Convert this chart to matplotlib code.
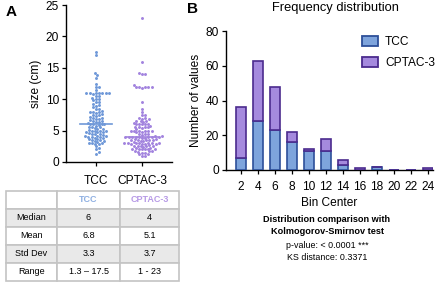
import numpy as np
import matplotlib
matplotlib.use("Agg")
import matplotlib.pyplot as plt
from matplotlib.patches import Patch

plt.rcParams['font.family'] = ['Liberation Sans', 'DejaVu Sans']

# ---- data ----
groups = ['TCC', 'CPTAC-3']
tcc_sizes = [1.3, 1.6, 2.0, 2.3, 2.5, 2.8, 2.9,
             3.0, 3.0, 3.1, 3.2, 3.3, 3.4, 3.5, 3.5, 3.6, 3.7, 3.8, 3.9, 4.0, 4.0,
             4.0, 4.1, 4.2, 4.2, 4.3, 4.4, 4.5, 4.5, 4.6, 4.7, 4.8, 4.8, 4.9, 4.9,
             5.0, 5.0, 5.1, 5.2, 5.3, 5.4, 5.5, 5.5, 5.6, 5.8, 5.9, 6.0, 6.0, 6.0,
             6.1, 6.2, 6.3, 6.4, 6.5, 6.5, 6.7, 6.8, 6.9,
             7.0, 7.0, 7.2, 7.3, 7.5, 7.5, 7.7, 7.8, 8.0, 8.0, 8.0, 8.2, 8.4, 8.5,
             8.7, 8.9,
             9.0, 9.2, 9.5, 9.5, 9.8, 10.0, 10.0, 10.2, 10.5, 10.5, 10.8,
             11.0, 11.0, 11.0, 11.0, 11.0, 11.0, 11.0, 11.5, 12.0, 12.0, 12.5,
             13.4, 13.8, 14.1, 17.0, 17.5]
cptac_sizes = [1.0, 1.0, 1.2, 1.3, 1.5, 1.5, 1.6, 1.7, 1.8, 1.8, 2.0, 2.0, 2.0,
               2.0, 2.0, 2.1, 2.2, 2.3, 2.4, 2.5, 2.5, 2.5, 2.5, 2.6, 2.7, 2.8,
               2.8, 2.9, 2.9,
               3.0, 3.0, 3.0, 3.0, 3.0, 3.0, 3.1, 3.2, 3.3, 3.4, 3.5, 3.5, 3.5,
               3.5, 3.5, 3.6, 3.7, 3.8, 3.9, 4.0, 4.0, 4.0, 4.0, 4.0, 4.0, 4.0,
               4.0, 4.1, 4.2, 4.3, 4.5, 4.5, 4.5, 4.7, 4.8,
               5.0, 5.0, 5.0, 5.0, 5.0, 5.0, 5.2, 5.4, 5.5, 5.5, 5.5, 5.6, 5.8,
               6.0, 6.0, 6.0, 6.0, 6.0, 6.2, 6.4, 6.5, 6.5, 6.5, 6.8, 6.9,
               7.0, 7.0, 7.5, 7.5, 8.0, 8.5,
               9.5,
               11.8, 12.0, 12.0, 12.0, 12.0, 12.0, 12.2,
               14.0, 14.0, 14.2, 16.0, 23.0]
medians = [6, 4]

bin_centers = [2, 4, 6, 8, 10, 12, 14, 16, 18, 20, 22, 24]
tcc_counts = [7, 28, 23, 16, 11, 11, 3, 0, 2, 0, 0, 0]
cptac_counts = [29, 35, 25, 6, 1, 7, 3, 1, 0, 0, 0, 1]

table_rows = ['Median', 'Mean', 'Std Dev', 'Range']
tcc_stats = ['6', '6.8', '3.3', '1.3 \u2013 17.5']
cptac_stats = ['4', '5.1', '3.7', '1 - 23']

blue_dot = '#6f98d8'
purple_dot = '#a283de'
blue_fill = '#7ea4dc'
blue_edge = '#2d4f99'
purple_fill = '#a58ade'
purple_edge = '#4b2b8e'

W, H = 440, 282
fig = plt.figure(figsize=(W / 100, H / 100), dpi=100)


def fax(x0, y0, x1, y1):
    # pixel box -> figure axes
    return fig.add_axes([x0 / W, 1 - y1 / H, (x1 - x0) / W, (y1 - y0) / H])


def swarm(vals, d, ypx):
    order = np.argsort(vals)
    placed = []
    offs = np.zeros(len(vals))
    for i in order:
        y = vals[i] * ypx
        near = [(px, py) for px, py in placed if abs(py - y) < d]
        k = 0
        while True:
            cands = [0.0] if k == 0 else [k * d * 0.5, -k * d * 0.5]
            ok = None
            for c in cands:
                if all((c - px) ** 2 + (y - py) ** 2 >= d * d for px, py in near):
                    ok = c
                    break
            if ok is not None:
                break
            k += 1
        placed.append((ok, y))
        offs[i] = ok
    return offs


fs = 8.6

# ---- panel A: scatter ----
axA = fax(66, 5, 172, 162)
xpx_per_unit = 46.0
ypx_per_unit = 157 / 25
for i, (vals, col) in enumerate([(tcc_sizes, blue_dot), (cptac_sizes, purple_dot)]):
    vals = np.array(vals)
    off = swarm(vals, 2.8, ypx_per_unit) / xpx_per_unit
    axA.scatter(i + off, vals, s=4.5, color=col, linewidths=0, zorder=3)
    axA.plot([i - 0.35, i + 0.35], [medians[i]] * 2, color=col, lw=1.2, zorder=4)
axA.set_xlim(-0.65, 1.65)
axA.set_ylim(0, 25)
axA.set_yticks([0, 5, 10, 15, 20, 25])
axA.set_xticks([0, 1])
axA.set_xticklabels(groups)
axA.tick_params(labelsize=fs, length=3, width=0.9, colors='black', pad=2)
axA.tick_params(axis='x', pad=6)
axA.set_ylabel('size (cm)', fontsize=fs, labelpad=3)
for s in ['top', 'right']:
    axA.spines[s].set_visible(False)
for s in ['left', 'bottom']:
    axA.spines[s].set_linewidth(1.0)
fig.text(6 / W, 1 - 12 / H, 'A', fontsize=11, fontweight='bold', va='center')

# ---- panel B: stacked histogram ----
axB = fax(226, 31, 433, 170)
axB.bar(bin_centers, tcc_counts, width=1.25, color=blue_fill, edgecolor=blue_edge,
        linewidth=1.2, label='TCC', zorder=3)
axB.bar(bin_centers, cptac_counts, width=1.25, bottom=tcc_counts, color=purple_fill,
        edgecolor=purple_edge, linewidth=1.2, label='CPTAC-3', zorder=3)
axB.set_xlim(0.25, 24.6)
axB.set_ylim(0, 80)
axB.set_yticks([0, 20, 40, 60, 80])
axB.set_xticks(bin_centers)
axB.tick_params(labelsize=fs, length=3, width=0.9, pad=2)
axB.tick_params(axis='x', pad=5)
axB.set_ylabel('Number of values', fontsize=fs, labelpad=3)
axB.set_xlabel('Bin Center', fontsize=fs, labelpad=3)
for s in ['top', 'right']:
    axB.spines[s].set_visible(False)
for s in ['left', 'bottom']:
    axB.spines[s].set_linewidth(1.0)
handles = [Patch(facecolor=blue_fill, edgecolor=blue_edge, linewidth=1.3, label='TCC'),
           Patch(facecolor=purple_fill, edgecolor=purple_edge, linewidth=1.3, label='CPTAC-3')]
axB.legend(handles=handles, loc='upper left', bbox_to_anchor=(0.655, 0.965), frameon=False,
           fontsize=fs, handlelength=1.35, handleheight=0.9, labelspacing=0.75,
           handletextpad=0.6, borderaxespad=0, borderpad=0)
fig.text(335 / W, 1 - 8 / H, 'Frequency distribution', fontsize=9.3, ha='center', va='center')
fig.text(187 / W, 1 - 9 / H, 'B', fontsize=11, fontweight='bold', va='center')

# ---- KS test text ----
fig.text(327 / W, 1 - 220 / H, 'Distribution comparison with', fontsize=6.6,
         fontweight='bold', ha='center', va='center')
fig.text(327 / W, 1 - 232 / H, 'Kolmogorov-Smirnov test', fontsize=6.6,
         fontweight='bold', ha='center', va='center')
fig.text(327 / W, 1 - 245 / H, 'p-value: < 0.0001 ***', fontsize=6.4,
         ha='center', va='center')
fig.text(327 / W, 1 - 257 / H, 'KS distance: 0.3371', fontsize=6.4,
         ha='center', va='center')

# ---- summary table ----
axT = fax(6, 191, 179, 281)
axT.axis('off')
cell_text = [['', groups[0], groups[1]]]
for r, a, b in zip(table_rows, tcc_stats, cptac_stats):
    cell_text.append([r, a, b])
tbl = axT.table(cellText=cell_text, bbox=[0, 0, 1, 1],
                colWidths=[0.295, 0.364, 0.341], cellLoc='center')
tbl.auto_set_font_size(False)
tbl.set_fontsize(6.5)
for (r, c), cell in tbl.get_celld().items():
    cell.set_edgecolor('#c4c4c4')
    cell.set_linewidth(1.2)
    if r in (1, 3):
        cell.set_facecolor('#e9e9e9')
    else:
        cell.set_facecolor('white')
    if c == 0 and r > 0:
        cell._loc = 'right'
        cell.PAD = 0.12
    if r == 0 and c == 1:
        cell.get_text().set_color('#8fb0e2')
        cell.get_text().set_fontweight('bold')
    if r == 0 and c == 2:
        cell.get_text().set_color('#b79ae6')
        cell.get_text().set_fontweight('bold')

fig.savefig('out.png', dpi=100)
